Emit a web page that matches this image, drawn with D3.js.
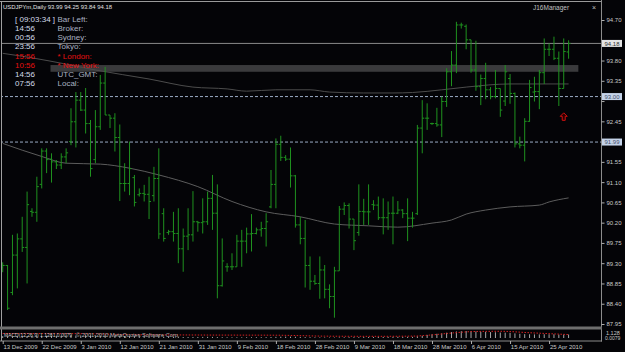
<!DOCTYPE html>
<html>
<head>
<meta charset="utf-8">
<script src="https://cdn.jsdelivr.net/npm/d3@7"></script>
<style>
html, body { margin: 0; padding: 0; background: #040407; }
svg { display: block; font-family: "Liberation Sans", Arial, sans-serif; }
</style>
</head>
<body>
<svg id="chart" width="625" height="352"></svg>
<script>
// ---- data ----
var dateTicks = ["13 Dec 2009", "22 Dec 2009", "3 Jan 2010", "12 Jan 2010", "21 Jan 2010",
  "31 Jan 2010", "9 Feb 2010", "18 Feb 2010", "28 Feb 2010", "9 Mar 2010", "18 Mar 2010",
  "28 Mar 2010", "6 Apr 2010", "15 Apr 2010", "25 Apr 2010"];
var tickBars = [0, 8, 16, 24, 32, 40, 48, 56, 64, 72, 80, 88, 96, 104, 112];

var opens = [89.20,89.25,88.65,89.48,89.84,89.65,90.45,90.43,91.05,91.79,
  91.61,91.55,91.48,91.66,92.00,92.44,92.92,92.70,92.40,91.60,
  92.33,93.30,92.59,92.52,92.09,91.07,91.07,91.20,90.82,90.85,
  90.83,90.80,91.18,90.40,89.98,90.00,89.96,89.62,89.90,89.93,
  90.22,90.20,90.22,90.74,90.41,88.80,89.22,89.22,89.22,89.79,
  89.79,89.95,89.96,90.04,90.07,90.55,91.05,91.94,91.65,91.61,
  91.24,90.15,89.85,89.25,88.90,88.85,89.15,88.72,88.56,89.13,
  90.50,90.58,90.28,89.98,90.45,90.44,90.60,90.59,90.31,90.31,
  90.41,90.41,90.48,90.40,90.30,90.40,92.30,92.52,92.40,92.40,
  92.37,92.89,93.55,93.70,94.59,94.56,94.26,93.59,93.22,93.40,
  93.15,93.00,93.18,92.90,93.40,93.07,91.95,91.92,92.45,93.10,
  93.11,93.53,94.05,94.05,93.85,93.18,93.99];
var highs = [89.32,89.26,89.93,89.96,90.33,90.89,90.52,91.22,91.85,91.85,
  91.74,91.59,91.74,91.85,92.74,93.10,93.10,93.19,92.48,92.70,
  93.48,93.66,92.59,92.63,92.38,91.52,92.00,91.26,90.96,91.04,
  91.22,91.44,91.85,90.52,90.04,90.44,90.52,90.07,90.52,90.90,
  90.24,90.74,90.89,91.26,91.05,89.85,89.30,89.52,89.93,90.04,
  90.09,90.39,90.09,90.22,90.41,91.37,92.07,92.13,91.70,91.87,
  91.26,90.33,90.26,89.45,89.04,89.45,89.26,88.83,89.22,90.57,
  90.65,90.63,90.28,91.05,90.73,91.05,90.70,90.78,90.74,90.67,
  90.78,90.68,90.50,90.74,90.44,92.37,92.92,92.85,92.42,92.75,
  93.00,93.63,94.01,94.66,94.64,94.60,94.26,94.24,93.49,93.75,
  93.21,93.59,93.18,93.70,93.50,93.09,92.11,92.52,93.37,93.44,
  93.59,94.29,94.18,94.33,94.00,94.29,94.25];
var lows = [89.10,88.26,88.59,88.74,89.55,88.85,90.33,90.22,90.96,91.30,
  91.09,91.39,91.39,91.52,91.92,91.87,92.68,92.18,91.22,91.52,
  92.26,92.59,92.30,91.78,90.68,90.89,90.81,90.56,90.78,90.67,
  90.28,90.67,89.84,89.78,89.93,89.78,89.30,89.11,89.59,89.78,
  90.00,89.96,90.15,90.04,88.52,88.78,89.11,89.15,89.22,89.22,
  89.52,89.56,89.94,89.89,89.67,90.52,90.52,91.57,91.57,90.98,
  90.09,89.72,88.76,88.71,88.82,88.51,88.52,88.30,88.09,89.13,
  90.37,90.07,89.59,89.91,90.15,90.15,90.48,90.26,89.94,90.04,
  89.72,90.39,90.30,89.79,90.09,90.37,91.74,92.26,92.37,92.33,
  92.10,92.77,93.23,93.52,94.51,94.05,93.53,93.13,92.81,92.94,
  92.94,92.96,92.55,92.79,92.84,91.87,91.85,91.56,92.44,92.89,
  92.72,93.28,93.90,93.81,92.79,93.18,93.84];
var closes = [89.25,88.30,89.48,89.84,89.65,90.60,90.43,91.00,91.79,91.60,
  91.55,91.48,91.66,91.75,92.44,92.92,92.70,92.40,91.40,92.33,
  93.30,92.59,92.52,92.09,91.07,91.07,91.40,90.65,90.85,90.83,
  90.67,91.18,89.95,89.85,90.00,89.96,89.62,89.90,89.93,90.22,
  90.20,90.22,90.74,90.41,88.80,89.35,89.22,89.22,89.79,89.79,
  89.95,89.96,90.04,90.07,90.22,91.05,91.94,91.65,91.61,91.24,
  90.15,89.85,89.25,88.90,88.85,89.15,88.72,88.56,89.13,90.50,
  90.58,90.28,89.80,90.45,90.44,90.44,90.59,90.31,90.31,90.41,
  90.41,90.48,90.40,90.30,90.30,92.30,92.52,92.52,92.40,92.37,
  92.89,93.55,93.70,94.59,94.59,94.26,93.59,93.22,93.40,93.15,
  93.00,93.18,92.70,93.55,93.07,91.95,91.92,92.45,93.20,93.11,
  93.53,94.05,94.05,93.85,93.18,94.00,94.18];

var priceTicks = [94.70, 94.25, 93.80, 93.35, 92.90, 92.45, 92.00, 91.55, 91.10,
  90.65, 90.20, 89.75, 89.30, 88.85, 88.40, 87.95];

var fastMaBars = [0, 6, 13, 19, 30, 39, 46, 50, 56, 63, 67, 74, 80, 84, 90, 95, 104, 116];
var fastMa = [93.96, 93.86, 93.72, 93.59, 93.39, 93.21, 93.17, 93.12, 93.15, 93.15,
  93.10, 93.08, 93.08, 93.09, 93.15, 93.21, 93.28, 93.28];
var slowMaBars = [0, 8, 13, 20, 26, 32, 40, 47, 54, 61, 68, 75, 81, 88, 92, 95, 99, 104, 110, 112, 116];
var slowMa = [91.96, 91.67, 91.52, 91.50, 91.41, 91.26, 91.00, 90.67, 90.44, 90.33,
  90.17, 90.13, 90.10, 90.19, 90.26, 90.39, 90.48, 90.55, 90.59, 90.66, 90.75];

var macdMain = [0.30,0.28,0.27,0.27,0.28,0.30,0.30,0.31,0.33,0.35,
  0.36,0.36,0.36,0.37,0.38,0.40,0.41,0.42,0.40,0.39,
  0.40,0.41,0.40,0.38,0.35,0.32,0.30,0.28,0.26,0.25,
  0.24,0.24,0.22,0.20,0.19,0.18,0.17,0.16,0.16,0.17,
  0.17,0.18,0.19,0.18,0.15,0.13,0.12,0.11,0.11,0.11,
  0.12,0.12,0.13,0.13,0.14,0.16,0.19,0.21,0.22,0.22,
  0.20,0.18,0.15,0.13,0.11,0.10,0.09,0.08,0.08,0.10,
  0.12,0.13,0.13,0.14,0.15,0.16,0.17,0.17,0.17,0.18,
  0.18,0.19,0.19,0.19,0.19,0.28,0.35,0.50,0.60,0.68,
  0.75,0.85,0.95,1.05,1.10,1.12,1.10,1.05,1.00,0.98,
  0.95,0.92,0.88,0.86,0.83,0.75,0.68,0.62,0.60,0.58,
  0.58,0.60,0.60,0.60,0.55,0.55,0.56];
var signalBars = [0, 16, 26, 40, 56, 66, 76, 84, 88, 92, 97, 102, 108, 116];
var macdSignal = [0.72, 0.70, 0.55, 0.48, 0.45, 0.30, 0.27, 0.30, 0.50, 0.80, 1.05, 1.08, 0.85, 0.55];

var bidPrice = 94.18;
var levelPrices = [93.00, 91.99];
var zoneBars = [9.8, 118];
var zonePrices = [93.70, 93.55];
var arrowBars = [115];
var arrowPrices = [92.55];

var clockTimes = ["[ 09:03:34 ]", "14:56", "00:56", "23:56", "15:56", "10:56", "14:56", "07:56"];
var clockLabels = ["Bar Left:", "Broker:", "Sydney:", "Tokyo:", "* London:", "* New York:", "UTC_GMT:", "Local:"];
var clockRed = [false, false, false, false, true, true, false, false];

// ---- drawing ----
var svg = d3.select("#chart"),
    width = +svg.attr("width"),
    height = +svg.attr("height");

var axisX = 601;
var x = d3.scaleLinear().domain([0, 116]).range([2.7, 568.6]);
var y = d3.scaleLinear().domain([87.95, 94.70]).range([324, 20]);
var m = d3.scaleLinear().domain([0, 1.128]).range([338, 331]);

svg.append("rect").attr("width", width).attr("height", height).attr("fill", "#040407");

svg.append("defs").append("clipPath").attr("id", "main")
  .append("rect").attr("x", 2).attr("y", 2).attr("width", axisX - 2).attr("height", 324);

var plot = svg.append("g").attr("clip-path", "url(#main)");

// rectangle zone (background object)
plot.append("rect")
  .attr("x", x(zoneBars[0])).attr("width", x(zoneBars[1]) - x(zoneBars[0]))
  .attr("y", y(zonePrices[0])).attr("height", y(zonePrices[1]) - y(zonePrices[0]))
  .attr("fill", "#3a3a3c");

// bid line
plot.append("line")
  .attr("x1", 0).attr("x2", axisX).attr("y1", y(bidPrice)).attr("y2", y(bidPrice))
  .attr("stroke", "#8a8a8a").attr("stroke-width", 1);

// horizontal levels
plot.selectAll("line.level").data(levelPrices).enter().append("line")
  .attr("class", "level")
  .attr("x1", 0).attr("x2", axisX)
  .attr("y1", function(d) { return y(d); }).attr("y2", function(d) { return y(d); })
  .attr("stroke", "#9aaac4").attr("stroke-dasharray", "3,2");

// moving averages
var maLine = d3.line().curve(d3.curveMonotoneX)
  .x(function(d) { return x(d[0]); }).y(function(d) { return y(d[1]); });
plot.append("path")
  .datum(d3.zip(slowMaBars, slowMa))
  .attr("d", maLine).attr("fill", "none").attr("stroke", "#5c5c5c");
plot.append("path")
  .datum(d3.zip(fastMaBars, fastMa))
  .attr("d", maLine).attr("fill", "none").attr("stroke", "#4c4c4c");

// OHLC bars
var bars = d3.range(opens.length).map(function(i) {
  return { i: i, o: opens[i], h: highs[i], l: lows[i], c: closes[i] };
});
var bg = plot.append("g").attr("stroke", "#1f921f").attr("stroke-width", 1);
bg.selectAll("line.hl").data(bars).enter().append("line")
  .attr("x1", function(d) { return x(d.i); }).attr("x2", function(d) { return x(d.i); })
  .attr("y1", function(d) { return y(d.h); }).attr("y2", function(d) { return y(d.l); });
bg.selectAll("line.op").data(bars).enter().append("line")
  .attr("x1", function(d) { return x(d.i) - 2; }).attr("x2", function(d) { return x(d.i); })
  .attr("y1", function(d) { return y(d.o); }).attr("y2", function(d) { return y(d.o); });
bg.selectAll("line.cl").data(bars).enter().append("line")
  .attr("x1", function(d) { return x(d.i); }).attr("x2", function(d) { return x(d.i) + 2; })
  .attr("y1", function(d) { return y(d.c); }).attr("y2", function(d) { return y(d.c); });

// arrow signal
plot.selectAll("path.arrow").data(d3.zip(arrowBars, arrowPrices)).enter().append("path")
  .attr("class", "arrow")
  .attr("transform", function(d) { return "translate(" + x(d[0]) + "," + y(d[1]) + ")"; })
  .attr("d", "M0,-4 L3.5,-0.5 L1.5,-0.5 L1.5,3.5 L-1.5,3.5 L-1.5,-0.5 L-3.5,-0.5 Z")
  .attr("fill", "#2a0000").attr("stroke", "#d01010").attr("stroke-width", 1);

// frame
svg.append("line").attr("x1", 0).attr("x2", axisX).attr("y1", 1.5).attr("y2", 1.5).attr("stroke", "#9a9a9a");
svg.append("line").attr("x1", 1.5).attr("x2", 1.5).attr("y1", 1).attr("y2", 341).attr("stroke", "#a0a0a0");
svg.append("line").attr("x1", axisX + 0.5).attr("x2", axisX + 0.5).attr("y1", 0).attr("y2", 341.5).attr("stroke", "#8c8c8c");
svg.append("rect").attr("x", 0).attr("y", 326.5).attr("width", axisX + 1).attr("height", 3).attr("fill", "#6e6e6e");
svg.append("line").attr("x1", 0).attr("x2", axisX + 1).attr("y1", 341).attr("y2", 341).attr("stroke", "#8c8c8c");

// price axis; labels hidden under the price boxes are left blank as in the terminal
var boxPrices = [bidPrice].concat(levelPrices);
function underBox(v) {
  return boxPrices.some(function(p) { return Math.abs(y(p) - y(v)) < 6.5; });
}
var yAxis = svg.append("g")
  .attr("transform", "translate(" + (axisX + 0.5) + ",0)")
  .call(d3.axisRight(y).tickValues(priceTicks).tickSize(3).tickPadding(2)
    .tickFormat(function(v) { return underBox(v) ? "" : d3.format(".2f")(v); }));
yAxis.select(".domain").remove();
yAxis.selectAll("line").attr("stroke", "#b0b0b0");
yAxis.selectAll("text").attr("fill", "#c8c8c8").style("font-size", "6px");

// price boxes
function priceBox(p, fill, txt) {
  svg.append("rect").attr("x", axisX + 1).attr("y", y(p) - 3.5).attr("width", 20).attr("height", 7)
    .attr("fill", fill);
  svg.append("text").attr("x", axisX + 11).attr("y", y(p) + 2.2).attr("text-anchor", "middle")
    .style("font-size", "6px").attr("fill", txt).text(d3.format(".2f")(p));
}
priceBox(bidPrice, "#e4e4e4", "#303030");
levelPrices.forEach(function(p) { priceBox(p, "#c4d2e8", "#44506a"); });

// MACD sub window
var sub = svg.append("g");
sub.selectAll("line.hist").data(macdMain).enter().append("line")
  .attr("x1", function(d, i) { return x(i); }).attr("x2", function(d, i) { return x(i); })
  .attr("y1", m(0)).attr("y2", function(d) { return m(d); })
  .attr("stroke", "#a8a8a8");
sub.append("path")
  .datum(d3.zip(signalBars, macdSignal))
  .attr("d", d3.line().curve(d3.curveMonotoneX)
    .x(function(d) { return x(d[0]); }).y(function(d) { return m(d[1]); }))
  .attr("fill", "none").attr("stroke", "#d42020").attr("stroke-dasharray", "1.5,1.5");

sub.append("text").attr("x", 4).attr("y", 337).style("font-size", "5px").attr("fill", "#c8c8c8")
  .text("MACD(12,26,9) 1.1281 0.0079");
sub.append("text").attr("x", 76).attr("y", 337).style("font-size", "5.6px").attr("fill", "#b8b8b8")
  .text("\u00a9 2001-2010 MetaQuotes Software Corp.");
sub.append("text").attr("x", 606).attr("y", 334.5).style("font-size", "5.5px").attr("fill", "#c8c8c8").text("1.128");
sub.append("text").attr("x", 605).attr("y", 340).style("font-size", "5px").attr("fill", "#c8c8c8").text("0.0079");

// date axis
var xAxis = svg.append("g")
  .attr("transform", "translate(0,341)")
  .call(d3.axisBottom(x).tickValues(tickBars).tickSize(3).tickPadding(1)
    .tickFormat(function(d, k) { return dateTicks[k]; }));
xAxis.select(".domain").remove();
xAxis.selectAll("line").attr("stroke", "#b0b0b0");
xAxis.selectAll("text").attr("fill", "#c8c8c8").style("font-size", "6px")
  .attr("text-anchor", "start").attr("dx", "0.3");

// title and labels
svg.append("text").attr("x", 3).attr("y", 8.5).style("font-size", "6px").attr("fill", "#e0e0e0")
  .attr("textLength", 109).attr("lengthAdjust", "spacingAndGlyphs")
  .text("USDJPYm,Daily  93.99 94.25 93.84 94.18");
svg.append("text").attr("x", 533).attr("y", 9.5).style("font-size", "6.5px").attr("fill", "#c0c0c0")
  .text("J16Manager");
svg.append("text").attr("x", 592).attr("y", 9.5).style("font-size", "7px").attr("fill", "#c0c0c0")
  .text("\u00d7");

// clock block
var clock = svg.append("g").style("font-size", "8px");
clock.selectAll("text.t").data(clockTimes).enter().append("text")
  .attr("x", 15).attr("y", function(d, k) { return 22 + k * 9.15; })
  .attr("fill", function(d, k) { return clockRed[k] ? "#e41010" : "#d4dcea"; })
  .text(function(d) { return d; });
clock.selectAll("text.l").data(clockLabels).enter().append("text")
  .attr("x", 57.5).attr("y", function(d, k) { return 22 + k * 9.15; })
  .attr("fill", function(d, k) { return clockRed[k] ? "#e41010" : "#aab2c2"; })
  .text(function(d) { return d; });
</script>
</body>
</html>
